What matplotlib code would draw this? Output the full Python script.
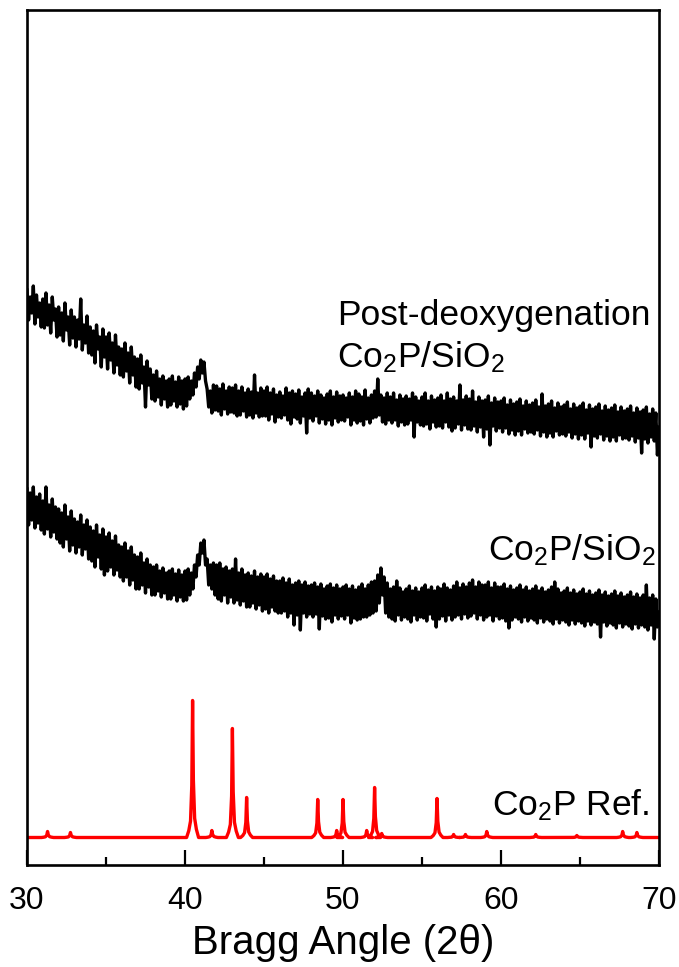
import numpy as np
import matplotlib
matplotlib.use("Agg")
import matplotlib.pyplot as plt

plt.rcParams['font.family'] = ['Liberation Sans', 'DejaVu Sans']
plt.rcParams['mathtext.fontset'] = 'custom'
plt.rcParams['mathtext.rm'] = 'Liberation Sans'
plt.rcParams['mathtext.it'] = 'Liberation Sans:italic'

# 2-theta grid of the measured patterns (0.1 deg steps, 30..70)
two_theta = np.round(np.arange(30.0, 70.0001, 0.1), 1)

# Post-deoxygenation Co2P/SiO2 (arbitrary intensity, offset); one row per degree
post_deox = [
    575, 545, 568, 552, 579, 541, 570, 548, 562, 538,
    566, 537, 572, 540, 560, 532, 568, 545, 556, 528,
    558, 530, 552, 524, 562, 535, 548, 520, 555, 527,
    548, 518, 545, 526, 566, 515, 540, 522, 549, 512,
    538, 510, 534, 502, 540, 516, 528, 498, 536, 508,
    528, 496, 532, 505, 522, 492, 530, 500, 518, 490,
    516, 488, 522, 494, 512, 482, 518, 490, 508, 478,
    506, 476, 510, 482, 498, 458, 504, 480, 496, 466,
    490, 464, 494, 468, 486, 460, 489, 466, 484, 458,
    486, 460, 489, 464, 483, 458, 488, 461, 484, 456,
    486, 459, 488, 466, 484, 470, 492, 478, 498, 486,
    505, 492, 503, 484, 476, 458, 474, 452, 480, 455,
    479, 454, 476, 450, 481, 456, 474, 451, 478, 453,
    477, 452, 480, 449, 474, 450, 478, 454, 472, 448,
    476, 450, 473, 447, 490, 452, 472, 448, 477, 449,
    474, 449, 478, 445, 472, 451, 476, 443, 470, 448,
    473, 447, 469, 450, 477, 445, 472, 441, 474, 448,
    471, 446, 475, 442, 468, 449, 472, 432, 476, 447,
    472, 444, 469, 449, 474, 442, 470, 446, 467, 441,
    471, 445, 474, 440, 468, 447, 473, 443, 469, 445,
    470, 444, 467, 448, 472, 440, 468, 445, 474, 442,
    471, 444, 468, 440, 475, 446, 467, 442, 470, 447,
    474, 448, 486, 450, 470, 443, 467, 441, 472, 445,
    468, 442, 472, 445, 465, 439, 470, 443, 466, 440,
    469, 441, 466, 445, 472, 428, 468, 443, 464, 440,
    468, 439, 472, 441, 464, 436, 469, 443, 465, 438,
    467, 439, 470, 437, 464, 443, 472, 438, 466, 434,
    468, 437, 464, 441, 480, 435, 465, 440, 469, 436,
    466, 435, 474, 439, 463, 433, 468, 438, 464, 428,
    465, 436, 469, 420, 462, 439, 467, 434, 463, 437,
    464, 433, 467, 437, 460, 431, 465, 435, 461, 430,
    463, 434, 466, 430, 459, 436, 464, 432, 460, 433,
    462, 431, 465, 435, 458, 429, 471, 433, 459, 428,
    461, 432, 464, 428, 457, 434, 462, 430, 458, 431,
    460, 429, 463, 433, 456, 427, 461, 431, 457, 426,
    459, 430, 462, 426, 455, 432, 460, 418, 456, 429,
    458, 427, 461, 431, 454, 425, 459, 429, 455, 424,
    457, 428, 460, 424, 453, 430, 458, 426, 454, 427,
    456, 425, 459, 429, 452, 423, 457, 427, 453, 412,
    455, 426, 458, 422, 451, 428, 456, 424, 452, 410,
    438,
]

# As-prepared Co2P/SiO2 (arbitrary intensity, offset); one row per degree
as_prepared = [
    376, 340, 372, 345, 378, 337, 368, 342, 371, 335,
    364, 331, 378, 336, 360, 328, 366, 333, 358, 326,
    356, 322, 352, 318, 360, 326, 348, 314, 354, 320,
    346, 312, 343, 318, 350, 310, 340, 316, 345, 306,
    338, 304, 334, 298, 340, 308, 330, 296, 336, 290,
    328, 294, 332, 298, 324, 290, 329, 295, 320, 288,
    318, 284, 322, 288, 314, 280, 318, 285, 310, 276,
    308, 276, 312, 280, 302, 272, 306, 278, 300, 270,
    298, 270, 300, 274, 294, 268, 297, 272, 292, 266,
    294, 266, 296, 270, 291, 264, 295, 268, 290, 264,
    294, 265, 296, 270, 292, 276, 300, 288, 310, 300,
    322, 312, 325, 300, 306, 280, 300, 276, 302, 270,
    300, 266, 302, 264, 296, 270, 298, 262, 294, 268,
    296, 262, 306, 265, 292, 260, 296, 264, 290, 258,
    292, 258, 289, 262, 294, 256, 288, 260, 291, 254,
    288, 256, 291, 252, 286, 258, 289, 254, 284, 252,
    284, 252, 287, 254, 282, 248, 286, 252, 280, 240,
    282, 250, 284, 235, 280, 252, 283, 248, 279, 251,
    280, 248, 282, 251, 278, 236, 281, 249, 276, 246,
    279, 247, 281, 243, 277, 250, 280, 246, 276, 249,
    278, 246, 280, 250, 276, 242, 279, 247, 275, 245,
    278, 246, 281, 248, 276, 248, 280, 250, 283, 252,
    284, 254, 290, 262, 297, 270, 288, 252, 282, 248,
    276, 246, 278, 244, 284, 250, 277, 245, 273, 248,
    276, 246, 279, 243, 274, 250, 277, 245, 273, 248,
    277, 247, 280, 244, 275, 251, 278, 246, 274, 238,
    278, 246, 276, 249, 281, 244, 277, 250, 275, 245,
    279, 248, 283, 250, 277, 246, 281, 251, 278, 247,
    282, 249, 285, 252, 278, 246, 283, 250, 280, 245,
    280, 248, 283, 250, 277, 244, 282, 249, 278, 246,
    278, 247, 281, 244, 276, 237, 279, 245, 275, 248,
    277, 246, 280, 243, 275, 248, 278, 244, 274, 247,
    276, 245, 279, 242, 274, 247, 277, 243, 273, 246,
    275, 244, 278, 241, 283, 246, 276, 242, 272, 245,
    274, 243, 277, 240, 272, 245, 275, 241, 271, 244,
    273, 242, 276, 239, 271, 244, 274, 240, 270, 243,
    272, 241, 275, 228, 270, 243, 273, 239, 269, 242,
    271, 240, 274, 237, 269, 242, 272, 238, 268, 241,
    270, 239, 273, 236, 268, 241, 271, 237, 267, 240,
    270, 238, 280, 235, 267, 240, 270, 226, 266, 238,
    253,
]

# Co2P reference pattern: peak positions and heights
ref_baseline = 27.5
ref_pos = [31.3, 32.75, 40.48, 41.7, 43.0, 43.9, 48.4, 49.6, 50.0, 51.5,
           52.0, 52.45, 55.95, 57.0, 57.75, 59.1, 62.2, 64.8, 67.7, 68.6]
ref_height = [6, 5, 137, 7, 109, 40, 38, 7, 38, 7,
              50, 4, 39, 3, 3, 6, 3, 2, 6, 5]

# build the reference line (narrow peak profile around each listed peak)
prof_dx = [-0.38, -0.24, -0.13, -0.05, 0.0, 0.05, 0.13, 0.24, 0.38]
prof_rel = [0.0, 0.05, 0.12, 0.38, 1.0, 0.42, 0.14, 0.06, 0.0]
rx, ry = [30.0], [ref_baseline]
for p, h in zip(ref_pos, ref_height):
    for dx, r in zip(prof_dx, prof_rel):
        rx.append(p + dx)
        ry.append(ref_baseline + h * r)
rx.append(70.0)
ry.append(ref_baseline)

fig = plt.figure(figsize=(6.79, 9.67), dpi=100)
ax = fig.add_axes([27 / 679, 1 - 865 / 967, 632 / 679, 855 / 967])

ax.plot(two_theta, post_deox, color='black', lw=2.4)
ax.plot(two_theta, as_prepared, color='black', lw=2.4)
ax.plot(rx, ry, color='#ff0000', lw=2.4)

ax.set_xlim(30, 70)
ax.set_ylim(0, 855)
ax.set_yticks([])
ax.set_xticks([30, 40, 50, 60, 70])
ax.set_xticks([35, 45, 55, 65], minor=True)
ax.tick_params(axis='x', which='major', direction='in', length=11, width=1.6,
               labelsize=23, pad=15, top=False)
ax.tick_params(axis='x', which='minor', direction='in', length=6, width=1.6, top=False)
for s in ax.spines.values():
    s.set_linewidth(1.9)

ax.set_xlabel('Bragg Angle (2θ)', fontsize=29, labelpad=6)

ax.text(49.6, 549, 'Post-deoxygenation', fontsize=25.5, ha='left', va='center')
ax.text(49.6, 508, 'Co$_2$P/SiO$_2$', fontsize=25.5, ha='left', va='center')
ax.text(69.75, 315, 'Co$_2$P/SiO$_2$', fontsize=25.5, ha='right', va='center')
ax.text(69.4, 60, 'Co$_2$P Ref.', fontsize=25.5, ha='right', va='center')

fig.savefig('out.png', dpi=100)
